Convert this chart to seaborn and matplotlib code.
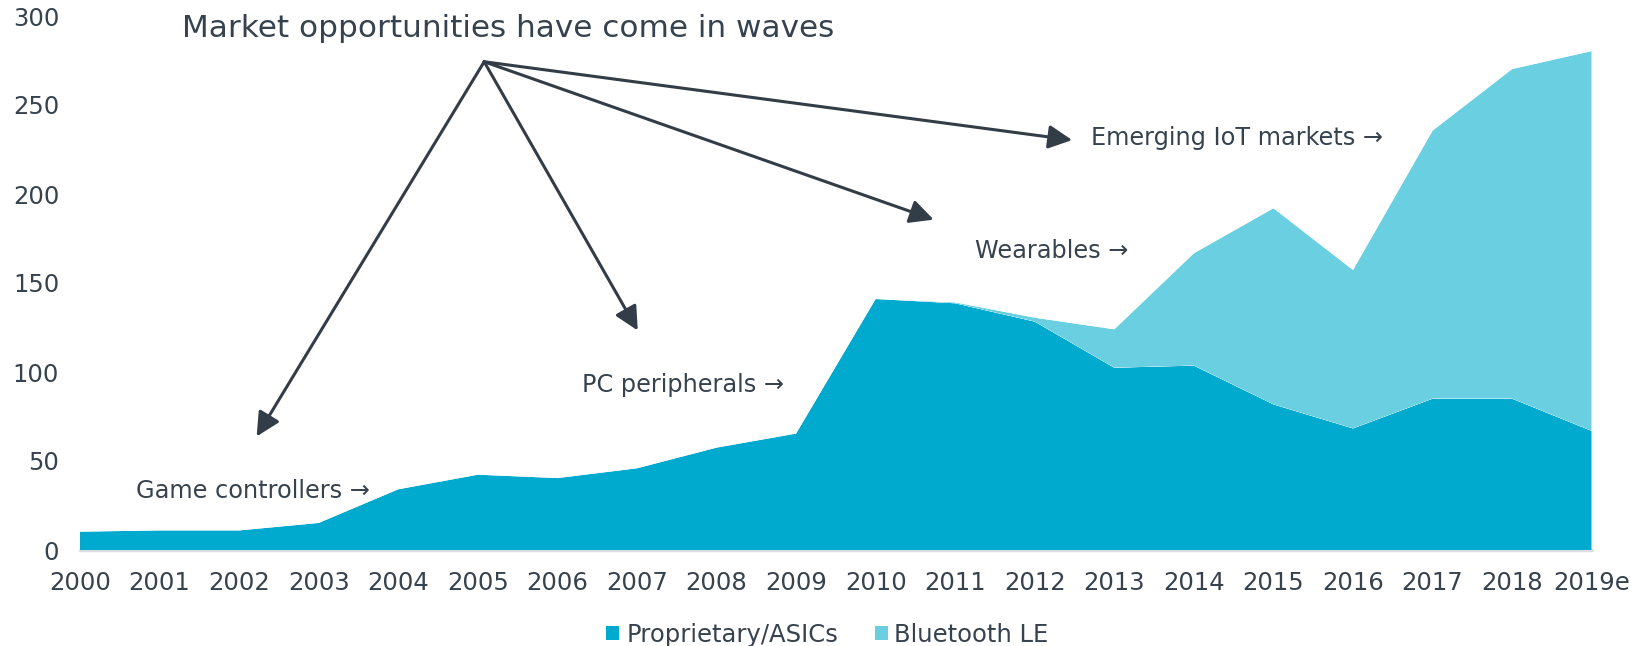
import matplotlib
matplotlib.use("Agg")
import matplotlib.pyplot as plt
from matplotlib.patches import Patch
import pandas as pd
import seaborn as sns
import seaborn.objects as so

# Shipments by technology (millions of units)
years = ["2000", "2001", "2002", "2003", "2004", "2005", "2006", "2007", "2008", "2009",
         "2010", "2011", "2012", "2013", "2014", "2015", "2016", "2017", "2018", "2019e"]
proprietary = [10.3, 11.0, 11.0, 15.2, 34.1, 42.3, 40.4, 45.9, 57.5, 65.4,
               141.0, 138.6, 128.3, 102.4, 103.6, 81.8, 68.3, 85.0, 85.0, 66.9]
bluetooth_le = [0, 0, 0, 0, 0, 0, 0, 0, 0, 0,
                0, 0.5, 2.2, 21.6, 63.1, 110.2, 89.0, 150.6, 185.2, 213.4]
series_names = ["Proprietary/ASICs", "Bluetooth LE"]
y_ticks = [0, 50, 100, 150, 200, 250, 300]

title_text = "Market opportunities have come in waves"
wave_labels = ["Game controllers \u2192", "PC peripherals \u2192",
               "Wearables \u2192", "Emerging IoT markets \u2192"]

DARK = "#00A9CE"
LIGHT = "#6AD0E1"
INK = "#36424E"
FONT = ["DejaVu Sans"]

sns.set_theme(style="white")
plt.rcParams["font.family"] = FONT

df = pd.DataFrame({
    "idx": list(range(len(years))) * 2,
    "value": proprietary + bluetooth_le,
    "series": [series_names[0]] * len(years) + [series_names[1]] * len(years),
})

fig = plt.figure(figsize=(16.4, 6.46), dpi=100)
ax = fig.add_axes([80 / 1640, 96 / 646, (1591.7 - 80) / 1640, 534 / 646])

(
    so.Plot(df, x="idx", y="value", color="series")
    .add(so.Area(alpha=1, edgewidth=0), so.Stack())
    .scale(color=so.Nominal({series_names[0]: DARK, series_names[1]: LIGHT},
                            order=series_names))
    .on(ax)
    .plot()
)
# the custom legend below replaces the automatic one
fig.legends.clear()

ax.set_xlim(0, len(years) - 1)
ax.set_ylim(0, 300)
ax.set_xticks(range(len(years)), years)
ax.set_yticks(y_ticks, [str(t) for t in y_ticks])
ax.set_xlabel("")
ax.set_ylabel("")
ax.tick_params(axis="x", length=0, pad=15, labelsize=17.5, labelcolor=INK)
ax.tick_params(axis="y", length=0, pad=15, labelsize=17.5, labelcolor=INK)
for s in ax.spines.values():
    s.set_visible(False)
ax.grid(False)
ax.axhline(0, color="#DADEE3", lw=2.5, zorder=0.5, clip_on=False)

# Headline and the fan of arrows pointing to each wave
ax.text(1.28, 292.7, title_text, fontsize=22.4, color=INK, va="center", ha="left")
apex = (5.08, 274.3)
tips = [(2.22, 63.8), (7.01, 123.3), (10.73, 185.6), (12.47, 230.3)]
for tip in tips:
    ax.annotate("", xy=tip, xytext=apex,
                arrowprops=dict(arrowstyle="-|>,head_length=0.9,head_width=0.45",
                                color="#333D47", lw=2.2, mutation_scale=16,
                                shrinkA=0, shrinkB=0))

label_pos = [(0.71, 33.3), (6.31, 92.7), (11.25, 168.0), (12.71, 231.5)]
for (x, y), txt in zip(label_pos, wave_labels):
    ax.text(x, y, txt, fontsize=17.3, color=INK, va="center", ha="left")

handles = [Patch(facecolor=DARK, edgecolor="none"), Patch(facecolor=LIGHT, edgecolor="none")]
fig.legend(handles, series_names, loc="center", bbox_to_anchor=(827.5 / 1640, 11.3 / 646),
           ncol=2, frameon=False, fontsize=17.5, labelcolor=INK,
           handlelength=0.54, handleheight=0.54, handletextpad=0.28, columnspacing=1.5,
           borderpad=0)

fig.savefig("out.png", dpi=100)
